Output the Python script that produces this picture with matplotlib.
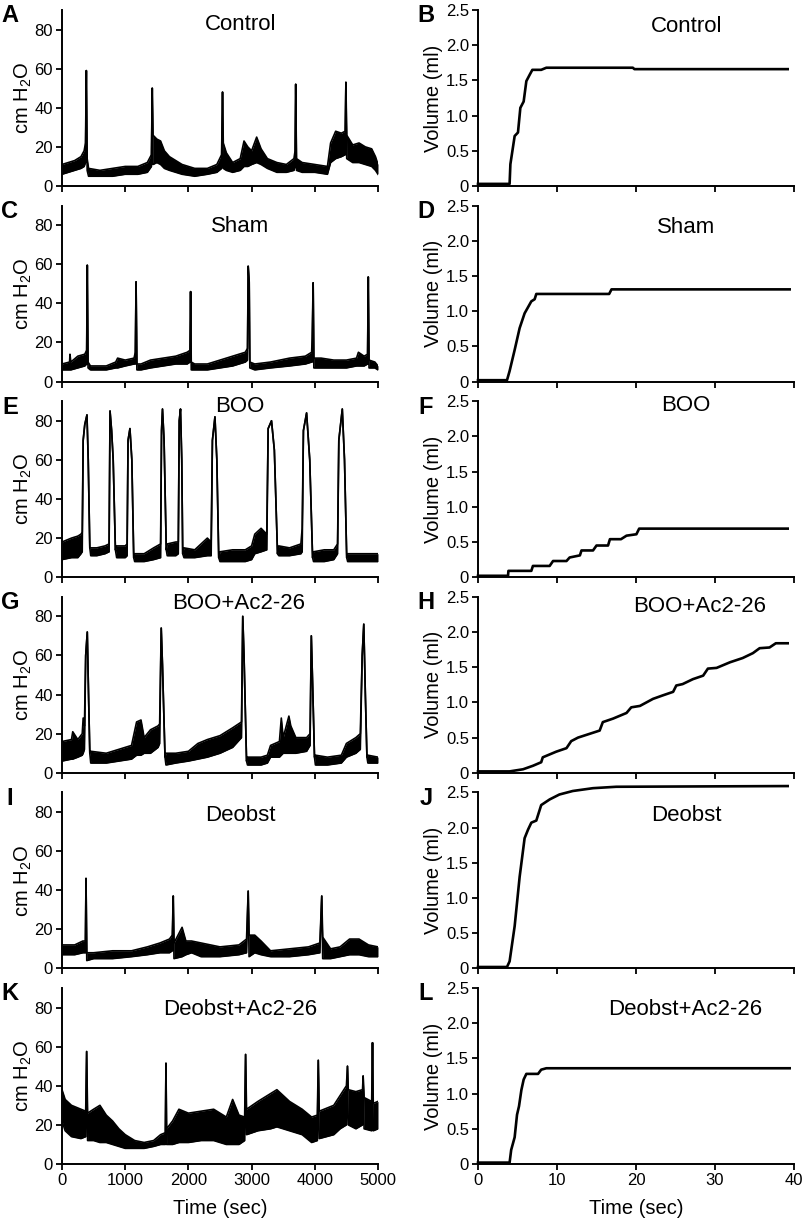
import numpy as np
import matplotlib
matplotlib.use("Agg")
import matplotlib.pyplot as plt

plt.rcParams['font.family'] = ['Liberation Sans', 'DejaVu Sans']
plt.rcParams['mathtext.fontset'] = 'custom'
plt.rcParams['mathtext.rm'] = 'Liberation Sans'
plt.rcParams['mathtext.default'] = 'regular'

groups = ["Control", "Sham", "BOO", "BOO+Ac2-26", "Deobst", "Deobst+Ac2-26"]
left_letters = ["A", "C", "E", "G", "I", "K"]
right_letters = ["B", "D", "F", "H", "J", "L"]

# cystometry traces: (time s, lower edge, upper edge) of the pressure band, cm H2O
ctrl_trace = [
    (0, 6, 11), (100, 7, 12), (200, 8, 13), (300, 9, 15), (350, 10, 18), (372, 12, 22),
    (385, 59, 59), (398, 8, 14), (420, 5, 9), (600, 5, 8), (800, 5, 9), (1000, 6, 10),
    (1200, 6, 10), (1350, 7, 12), (1415, 10, 16), (1428, 50, 50), (1440, 11, 26),
    (1500, 12, 24), (1560, 11, 23), (1620, 9, 18), (1700, 8, 15), (1800, 7, 13),
    (1900, 6, 11), (2100, 5, 9), (2300, 6, 9), (2450, 7, 11), (2525, 9, 16), (2540, 48, 48),
    (2552, 9, 22), (2600, 8, 17), (2700, 7, 12), (2820, 8, 14), (2880, 10, 23), (2940, 10, 20),
    (3000, 11, 18), (3080, 12, 25), (3150, 11, 19), (3250, 9, 14), (3400, 7, 12), (3550, 7, 11),
    (3670, 8, 14), (3688, 10, 18), (3698, 52, 52), (3710, 8, 14), (3800, 7, 12), (4000, 7, 11),
    (4200, 6, 10), (4250, 12, 22), (4330, 14, 28), (4420, 15, 27), (4480, 16, 28), (4492, 53, 53),
    (4505, 14, 26), (4600, 12, 21), (4700, 12, 22), (4800, 11, 20), (4900, 10, 19), (4960, 8, 15),
    (5000, 6, 11)]
sham_trace = [
    (0, 6, 9), (120, 6, 10), (126, 6, 14), (140, 6, 10), (250, 7, 13), (360, 8, 14), (390, 9, 16),
    (400, 59.5, 59.5), (412, 7, 10), (450, 6, 8), (700, 6, 8), (850, 7, 10), (880, 7, 12),
    (1000, 8, 11), (1140, 9, 12), (1160, 9, 15), (1172, 51, 51), (1185, 6, 9), (1250, 6, 9),
    (1400, 7, 11), (1600, 8, 12), (1800, 9, 13), (1980, 9, 15), (2025, 10, 16), (2035, 46, 46),
    (2045, 6, 10), (2100, 6, 9), (2300, 6, 9), (2500, 7, 11), (2700, 8, 13), (2900, 10, 15),
    (2935, 11, 17), (2946, 59, 59), (2962, 51, 51), (2972, 7, 10), (3050, 6, 9), (3300, 7, 10),
    (3600, 8, 12), (3850, 9, 13), (3950, 10, 15), (3958, 10, 22), (3974, 50.5, 50.5),
    (3985, 7, 12), (4100, 7, 12), (4300, 7, 11), (4500, 7, 11), (4660, 8, 12), (4690, 8, 15),
    (4780, 8, 13), (4835, 9, 14), (4846, 53.5, 53.5), (4858, 7, 11), (4950, 7, 10), (5000, 6, 8)]
boo_trace = [
    (0, 9, 18), (150, 10, 20), (250, 10, 21), (300, 12, 22), (320, 13, 23), (335, 70, 70),
    (360, 78, 78), (395, 83, 83), (415, 60, 60), (440, 15, 15), (455, 11, 15), (550, 11, 15),
    (680, 12, 16), (745, 13, 17), (760, 85, 85), (785, 75, 75), (810, 60, 60), (845, 14, 14),
    (865, 10, 16), (1000, 10, 16), (1030, 11, 17), (1045, 70, 70), (1075, 76, 76), (1105, 60, 60),
    (1135, 10, 10), (1150, 8, 12), (1300, 8, 12), (1450, 9, 15), (1560, 10, 17), (1575, 75, 75),
    (1590, 86, 86), (1615, 70, 70), (1650, 14, 14), (1665, 11, 17), (1800, 11, 18), (1840, 12, 18),
    (1855, 80, 80), (1875, 86, 86), (1895, 60, 60), (1910, 12, 12), (1930, 10, 15), (2100, 10, 14),
    (2300, 11, 20), (2360, 11, 18), (2380, 70, 70), (2420, 82, 82), (2450, 60, 60), (2480, 10, 10),
    (2500, 8, 13), (2700, 8, 14), (2900, 8, 14), (3000, 9, 16), (3050, 12, 22), (3150, 13, 25),
    (3240, 14, 22), (3262, 76, 76), (3315, 80, 80), (3360, 65, 65), (3410, 12, 12), (3430, 11, 16),
    (3600, 11, 15), (3780, 12, 17), (3800, 13, 25), (3820, 75, 75), (3870, 84, 84), (3920, 60, 60),
    (3965, 10, 10), (3980, 8, 13), (4150, 8, 14), (4300, 9, 14), (4360, 12, 17), (4380, 70, 70),
    (4435, 86, 86), (4470, 60, 60), (4505, 10, 10), (4520, 8, 12), (4700, 8, 12), (4900, 8, 12),
    (5000, 8, 12)]
booac_trace = [
    (0, 6, 16), (150, 7, 17), (170, 7, 21), (250, 8, 17), (320, 9, 20), (335, 10, 28), (355, 12, 24),
    (375, 60, 60), (400, 72, 72), (420, 40, 40), (440, 10, 10), (455, 5, 11), (700, 5, 10),
    (900, 6, 12), (1100, 7, 14), (1180, 9, 26), (1250, 9, 27), (1300, 10, 18), (1400, 10, 22),
    (1520, 13, 24), (1545, 15, 25), (1570, 74, 74), (1590, 55, 55), (1630, 8, 8), (1645, 4, 10),
    (1800, 5, 10), (2000, 6, 11), (2150, 7, 15), (2300, 8, 17), (2500, 10, 19), (2700, 13, 23),
    (2840, 18, 26), (2860, 80, 80), (2880, 60, 60), (2920, 6, 6), (2935, 4, 8), (3150, 4, 8),
    (3250, 5, 9), (3300, 8, 14), (3440, 8, 16), (3470, 9, 28), (3500, 10, 18), (3590, 10, 29),
    (3620, 10, 24), (3700, 10, 18), (3870, 11, 18), (3925, 14, 20), (3945, 70, 70), (3970, 40, 40),
    (3995, 8, 8), (4010, 4, 9), (4200, 4, 8), (4420, 5, 9), (4500, 8, 15), (4650, 10, 18),
    (4720, 12, 20), (4750, 60, 60), (4775, 76, 76), (4800, 40, 40), (4825, 8, 8), (4840, 5, 9),
    (5000, 5, 8)]
deob_trace = [
    (0, 7, 12), (200, 7, 12), (330, 8, 14), (370, 8, 14), (380, 46, 46), (392, 4, 8), (500, 5, 8),
    (800, 5, 9), (1100, 6, 9), (1350, 7, 11), (1550, 8, 13), (1700, 8, 15), (1745, 9, 17),
    (1760, 37, 37), (1772, 5, 13), (1900, 6, 21), (1960, 7, 14), (2050, 8, 14), (2200, 6, 13),
    (2500, 6, 11), (2800, 7, 12), (2920, 8, 15), (2946, 39.5, 39.5), (2960, 6, 17), (3050, 8, 17),
    (3150, 7, 14), (3300, 6, 9), (3600, 6, 10), (3900, 7, 11), (4080, 8, 13), (4110, 37, 37),
    (4125, 5, 16), (4250, 5, 10), (4400, 6, 11), (4550, 7, 15), (4700, 7, 15), (4850, 6, 12),
    (5000, 6, 11)]
deobac_trace = [
    (0, 22, 38), (50, 17, 33), (150, 14, 30), (300, 13, 28), (375, 14, 27), (390, 57.5, 57.5),
    (405, 12, 26), (500, 12, 28), (600, 11, 30), (700, 11, 25), (800, 10, 22), (900, 9, 18),
    (1000, 8, 15), (1150, 8, 12), (1300, 8, 11), (1450, 9, 12), (1560, 10, 15), (1635, 10, 16),
    (1645, 51.5, 51.5), (1655, 10, 18), (1750, 10, 22), (1850, 11, 28), (2000, 11, 26),
    (2200, 12, 27), (2400, 12, 28), (2600, 10, 24), (2700, 10, 33), (2800, 10, 25), (2890, 12, 24),
    (2905, 56, 56), (2920, 15, 28), (3100, 17, 32), (3300, 18, 36), (3400, 19, 38), (3600, 17, 32),
    (3800, 15, 28), (3950, 11, 24), (4040, 12, 25), (4055, 53, 53), (4070, 13, 27), (4300, 15, 30),
    (4400, 18, 35), (4500, 20, 40), (4517, 50, 50), (4530, 20, 38), (4650, 18, 37), (4755, 20, 38),
    (4765, 45, 45), (4780, 18, 34), (4900, 17, 32), (4913, 62, 62), (4925, 17, 31), (5000, 18, 32)]
traces = [ctrl_trace, sham_trace, boo_trace, booac_trace, deob_trace, deobac_trace]

# voided volume curves: (time s, volume ml)
ctrl_vol = [(0, 0.03), (4.0, 0.03), (4.1, 0.31), (4.64, 0.71), (5.06, 0.76), (5.36, 1.11),
            (5.78, 1.2), (6.12, 1.49), (6.54, 1.58), (6.88, 1.65), (8.0, 1.65), (8.65, 1.68),
            (19.6, 1.68), (19.8, 1.66), (39.2, 1.66)]
sham_vol = [(0, 0.02), (3.67, 0.02), (4.0, 0.15), (4.64, 0.45), (5.27, 0.76), (5.9, 0.97),
            (6.75, 1.14), (7.17, 1.17), (7.38, 1.245), (16.6, 1.245), (16.9, 1.31), (39.45, 1.31)]
boo_vol = [(0, 0.02), (3.8, 0.02), (3.85, 0.09), (6.75, 0.09), (6.95, 0.16), (9.07, 0.16),
           (9.5, 0.23), (11.2, 0.23), (11.6, 0.28), (12.9, 0.31), (13.1, 0.38), (14.56, 0.38),
           (15.0, 0.45), (16.46, 0.45), (16.7, 0.54), (18.1, 0.54), (18.8, 0.59), (20.05, 0.61),
           (20.4, 0.69), (39.2, 0.69)]
booac_vol = [(0, 0.02), (4.0, 0.02), (5.7, 0.05), (6.96, 0.1), (8.0, 0.15), (8.2, 0.22),
             (9.9, 0.3), (11.2, 0.35), (11.8, 0.45), (12.66, 0.5), (15.4, 0.6), (15.8, 0.72),
             (17.1, 0.77), (18.8, 0.85), (19.4, 0.93), (20.5, 0.95), (22.15, 1.05), (23.4, 1.1),
             (24.7, 1.15), (25.1, 1.24), (25.9, 1.26), (27.2, 1.33), (28.5, 1.38), (29.1, 1.48),
             (30.2, 1.49), (31.9, 1.57), (33.5, 1.63), (34.8, 1.7), (35.65, 1.77), (36.9, 1.78),
             (37.7, 1.84), (39.2, 1.84)]
deob_vol = [(0, 0.02), (3.67, 0.02), (4.0, 0.1), (4.64, 0.6), (5.27, 1.3), (5.9, 1.85),
            (6.33, 1.97), (6.75, 2.07), (7.38, 2.1), (8.0, 2.32), (9.07, 2.4), (10.3, 2.47),
            (12.0, 2.52), (14.56, 2.56), (17.5, 2.58), (39.2, 2.59)]
deobac_vol = [(0, 0.02), (4.0, 0.02), (4.2, 0.2), (4.64, 0.38), (4.94, 0.7), (5.19, 0.82),
              (5.49, 1.05), (5.78, 1.2), (6.12, 1.28), (7.6, 1.28), (8.0, 1.34), (8.65, 1.36),
              (39.45, 1.36)]
volumes = [ctrl_vol, sham_vol, boo_vol, booac_vol, deob_vol, deobac_vol]

left_title_pos = [(0.566, 0.915), (0.563, 0.88), (0.563, 0.97), (0.56, 0.96), (0.566, 0.866), (0.563, 0.88)]
right_title_pos = [(0.661, 0.909), (0.657, 0.877), (0.657, 0.977), (0.70, 0.943), (0.66, 0.866), (0.657, 0.88)]

W, H = 805, 1222
fig = plt.figure(figsize=(W / 100, H / 100), dpi=100)

ax_h = 176
bottoms = [186 + 195.6 * i for i in range(6)]


def style(ax):
    for s in ['top', 'right']:
        ax.spines[s].set_visible(False)
    for s in ['left', 'bottom']:
        ax.spines[s].set_linewidth(1.4)
    ax.tick_params(direction='out', length=4.5, width=1.3, labelsize=12, pad=2)


for i in range(6):
    b = bottoms[i]
    axl = fig.add_axes([62 / W, (H - b) / H, 316 / W, ax_h / H])
    axr = fig.add_axes([478 / W, (H - b) / H, 316 / W, ax_h / H])

    tr = np.array(traces[i], dtype=float)
    axl.fill_between(tr[:, 0], tr[:, 1], tr[:, 2], color='black', lw=0)
    axl.plot(tr[:, 0], tr[:, 1], color='black', lw=1.2)
    axl.plot(tr[:, 0], tr[:, 2], color='black', lw=1.2)
    axl.set_xlim(0, 5000)
    axl.set_ylim(0, 90)
    axl.set_xticks(range(0, 5001, 1000))
    axl.set_yticks([0, 20, 40, 60, 80])
    style(axl)
    axl.set_ylabel(r'cm H$_2$O', fontsize=14.5)
    axl.yaxis.set_label_coords(-0.09, 0.5)
    axl.text(*left_title_pos[i], groups[i], transform=axl.transAxes,
             ha='center', va='center', fontsize=16)

    vo = np.array(volumes[i], dtype=float)
    axr.plot(vo[:, 0], vo[:, 1], color='black', lw=1.9, clip_on=False,
             solid_joinstyle='round')
    axr.set_xlim(0, 40)
    axr.set_ylim(0, 2.5)
    axr.set_xticks([0, 10, 20, 30, 40])
    axr.set_yticks([0, 0.5, 1.0, 1.5, 2.0, 2.5])
    axr.set_yticklabels(['0', '0.5', '1.0', '1.5', '2.0', '2.5'])
    style(axr)
    axr.set_ylabel('Volume (ml)', fontsize=14.5)
    axr.yaxis.set_label_coords(-0.11, 0.5)
    axr.text(*right_title_pos[i], groups[i], transform=axr.transAxes,
             ha='center', va='center', fontsize=16)

    if i < 5:
        axl.set_xticklabels([])
        axr.set_xticklabels([])
    else:
        axl.set_xlabel('Time (sec)', fontsize=14.5)
        axr.set_xlabel('Time (sec)', fontsize=14.5)
        axl.xaxis.set_label_coords(0.5, -0.2)
        axr.xaxis.set_label_coords(0.5, -0.2)

    top = b - ax_h
    fig.text(10 / W, 1 - (top + 6) / H, left_letters[i], fontsize=17, fontweight='bold',
             ha='center', va='center')
    fig.text(426 / W, 1 - (top + 6) / H, right_letters[i], fontsize=17, fontweight='bold',
             ha='center', va='center')

fig.savefig('out.png', dpi=100)
